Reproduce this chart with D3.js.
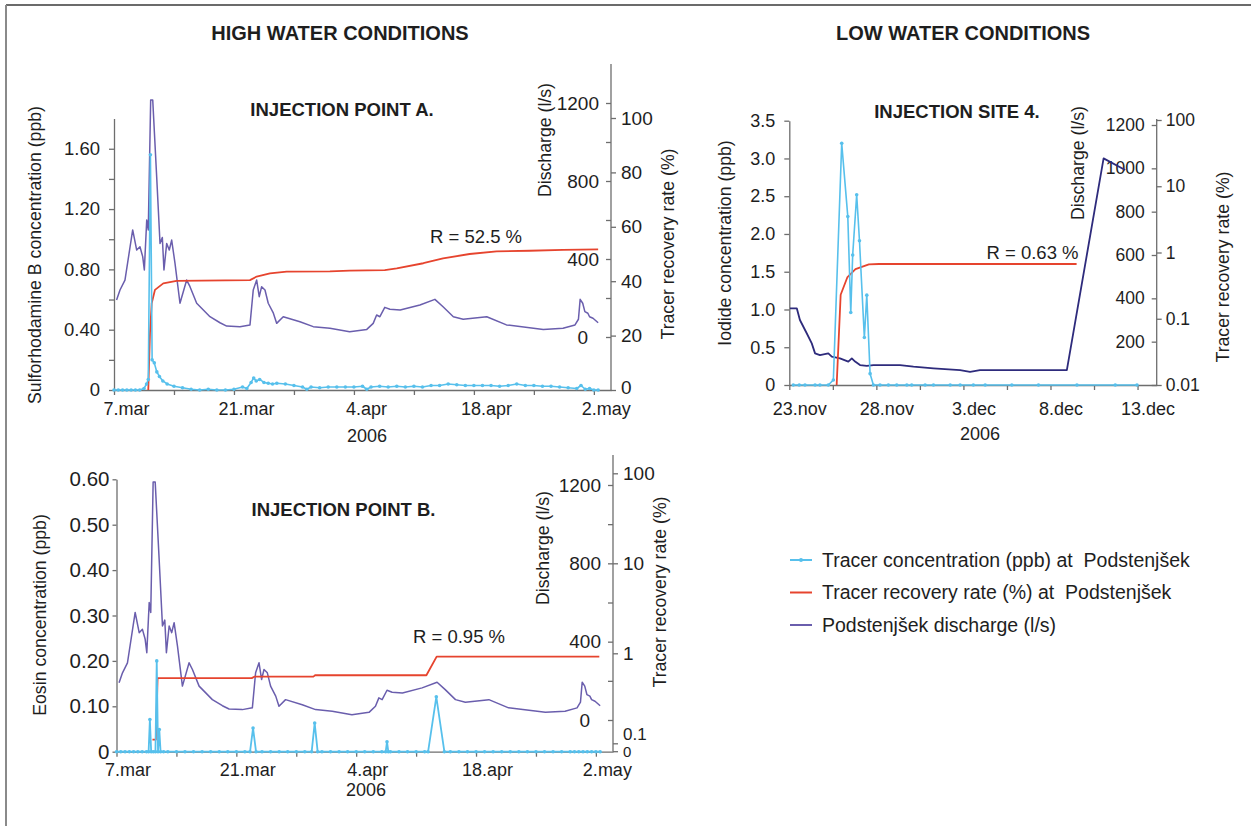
<!DOCTYPE html>
<html>
<head>
<meta charset="utf-8">
<script src="https://cdnjs.cloudflare.com/ajax/libs/d3/7.8.5/d3.min.js"></script>
<style>
body { margin: 0; background: #fff; }
svg { font-family: "Liberation Sans", Arial, sans-serif; }
</style>
</head>
<body>
<div class="chart"></div>
<script>
// ---- data (days counted from first date on the axis) ----

// Podstenjsek discharge, high water (days after 7.mar 2006, l/s) - same record in panel A and B
var dischargeDays = [0.3,0.7,1.28,2.18,2.65,3.03,3.35,3.54,3.82,4.0,4.28,4.52,4.98,5.37,5.64,5.83,6.15,6.45,6.73,7.12,7.7,8.48,8.87,9.65,11.2,12.37,13.15,14.7,15.87,16.25,16.65,16.95,17.23,17.62,18.0,18.6,18.98,19.75,21.7,23.25,25.2,27.5,29.5,30.25,30.65,31.03,31.6,32.2,33.4,35.7,37.45,38.4,39.6,40.75,43.5,45.8,50.1,52.4,53.8,54.2,54.4,54.7,54.95,55.3,55.5,55.9,56.5];
var dischargeVals = [190,241,292,549,446,463,412,344,600,549,1215,1215,822,480,510,344,480,446,497,378,173,292,258,173,104,73,56,53,62,241,292,207,258,241,173,122,70,104,78,53,45,27,39,70,113,104,152,142,138,164,193,155,104,91,104,62,39,45,62,91,193,173,130,122,104,96,73];

// injection point A: sulforhodamine B (ppb) and recovery (%)
var concADays = [0,0.5,1,1.5,2,2.5,3,3.5,3.8,4.0,4.25,4.45,4.7,5.0,5.3,5.7,6.2,7,8,9,10,11,12,13,14,15,15.5,16,16.3,16.6,17,17.5,18,18.5,19,20,21,22,22.5,23,24,25,26,27,28,29,29.5,30,31,32,33,34,35,36,37,38,39,40,41,42,43,44,45,46,47,48,49,50,51,52,53,54,54.5,55,55.5,56,56.5];
var concAVals = [0,0,0,0,0,0,0,0.01,0.04,0.07,1.56,0.2,0.18,0.12,0.09,0.06,0.04,0.025,0.015,0.005,0,0.005,0,0,0.005,0.02,0.01,0.05,0.08,0.06,0.07,0.05,0.045,0.04,0.045,0.04,0.03,0.02,0.005,0.02,0.015,0.02,0.02,0.02,0.02,0.025,0.005,0.02,0.025,0.02,0.025,0.02,0.025,0.02,0.03,0.03,0.04,0.035,0.03,0.03,0.03,0.03,0.025,0.03,0.04,0.03,0.03,0.025,0.025,0.02,0.015,0.01,0.03,0.005,0.01,0,0];
var recADays = [4.0,4.2,4.4,4.78,5.75,7.3,15.87,16.65,18.2,20.15,25.2,27.5,31.6,33,36.1,38.4,41.5,44.65,48.5,52.4,56.5];
var recAVals = [0,21,31.9,36.8,39.2,40.1,40.4,41.7,42.9,43.5,43.6,43.9,44.1,44.7,46.6,48.4,50,51,51.2,51.5,51.7];

// injection point B: eosin (ppb) and recovery (%)
var concBDays = [0,0.5,1,1.5,2,2.5,3,3.5,3.75,3.9,4.05,4.3,4.55,4.7,4.85,5.0,5.15,5.5,6,7,8,9,10,11,12,13,14,15,15.6,15.95,16.3,17,18,19,20,21,22,22.8,23.15,23.5,24,25,26,27,28,29,30,31,31.45,31.6,31.75,32,33,34,35,36,36.4,37.36,38.3,39,40,41,42,43,44,45,46,47,48,49,50,51,52,53,53.5,54,54.5,55,55.5,56,56.5];
var concBVals = [0,0,0,0,0, 0,0,0,0,0.071, 0,0,0,0.2,0, 0.049,0,0,0,0, 0,0,0,0,0, 0,0,0,0,0.052, 0,0,0,0,0, 0,0,0,0.063,0, 0,0,0,0,0, 0,0,0,0,0.022, 0,0,0,0,0, 0,0,0.121,0,0, 0,0,0,0,0, 0,0,0,0,0, 0,0,0,0,0, 0,0,0,0,0, 0];
var recBDays = [4.2,4.6,4.8,15.8,16.1,23.0,23.2,36.2,37.4,56.4];
var recBVals = [0.11,0.11,0.53,0.53,0.55,0.55,0.57,0.57,0.92,0.92];

// injection site 4, low water (days after 23.nov 2006)
var dischargeCDays = [0.04,0.43,0.61,1.0,1.29,1.48,1.76,2.24,2.44,2.91,3.39,3.59,3.78,4.06,4.45,4.83,6.36,7.13,8.28,9.81,10.38,10.95,15.94,18.05,19.29];
var dischargeCVals = [354,354,300,239,192,146,138,146,131,123,108,123,108,92,88,92,92,85,77,69,61,69,69,1046,992];
var concCDays = [0.23,0.57,0.9,1.48,1.76,2.24,2.53,3.01,3.36,3.53,3.64,3.87,4.03,4.31,4.45,4.64,4.83,5.21,5.69,6.17,6.75,7.03,7.8,8.28,9.24,9.81,10.57,11.25,12.78,14.31,16.52,18.72,19.97];
var concCVals = [0,0,0,0,0,0,0.066,3.2,2.23,0.96,1.72,2.52,1.91,0.63,1.19,0.15,0,0,0,0,0,0,0,0,0,0,0,0,0,0,0,0,0];
var recCDays = [2.72,2.95,3.33,3.8,4.57,5.15,16.5];
var recCVals = [0.01,0.23,0.42,0.56,0.66,0.67,0.67];

// axis ticks and labels
var weekTicks = [0,7,14,21,28,35,42,49,56];
var highLabelDays = [0,14,28,42,56];
var highLabels = ["7.mar","21.mar","4.apr","18.apr","2.may"];
var lowTicks = [0,2.5,5,7.5,10,12.5,15,17.5,20];
var lowLabelDays = [0,5,10,15,20];
var lowLabels = ["23.nov","28.nov","3.dec","8.dec","13.dec"];

var concATicks = [0,0.2,0.4,0.6,0.8,1.0,1.2,1.4,1.6];
var concALabels = ["0","","0.40","","0.80","","1.20","","1.60"];
var concBTicks = [0,0.1,0.2,0.3,0.4,0.5,0.6];
var concBLabels = ["0","0.10","0.20","0.30","0.40","0.50","0.60"];
var concCTicks = [0,0.5,1,1.5,2,2.5,3,3.5];
var concCLabels = ["0","0.5","1.0","1.5","2.0","2.5","3.0","3.5"];
var qTicks = [0,200,400,600,800,1000,1200];
var qLabelsHigh = ["0","","400","","800","","1200"];
var qLabelsLow = ["","200","400","600","800","1000","1200"];
var recATicks = [0,20,40,60,80,100];
var recLogTicksB = [0.1,1,10,100];
var recLogTicksC = [0.01,0.1,1,10,100];

var legendLabels = ["Tracer concentration (ppb) at \u00a0Podstenjšek", "Tracer recovery rate (%) at \u00a0Podstenjšek", "Podstenjšek discharge (l/s)"];

// ---- drawing ----
var colConc = "#57c0ec", colRec = "#e6442e", colQ = "#6a5ead", colQLow = "#2e2b7c";
var axisCol = "#6e6e6e", txtCol = "#1e1e1e";

var svg = d3.select(".chart").append("svg")
    .attr("width", 1251)
    .attr("height", 826);

// frame of the figure
svg.append("line").attr("x1", 6).attr("y1", 5).attr("x2", 1251).attr("y2", 5)
    .attr("stroke", "#3a3a3a").attr("stroke-width", 1.5);
svg.append("line").attr("x1", 6).attr("y1", 5).attr("x2", 6).attr("y2", 826)
    .attr("stroke", "#8a8a8a").attr("stroke-width", 2);

function styleAxis(a, fs) {
    a.attr("font-family", null).attr("font-size", fs);
    a.select(".domain").attr("stroke", axisCol).attr("stroke-width", 1.3);
    a.selectAll(".tick line").attr("stroke", axisCol).attr("stroke-width", 1.3);
    a.selectAll(".tick text").attr("fill", txtCol);
}

function text(t, x, y, fs, opts) {
    opts = opts || {};
    var el = svg.append("text")
        .attr("x", x).attr("y", y)
        .attr("dy", "0.35em")
        .attr("text-anchor", opts.anchor || "middle")
        .attr("font-size", fs)
        .attr("fill", txtCol)
        .text(t);
    if (opts.bold) el.attr("font-weight", "bold");
    if (opts.rot) el.attr("transform", `rotate(-90, ${x}, ${y})`);
    return el;
}

function bottomAxis(x, y0, ticks, labelDays, labels, shift, pad, fs) {
    svg.append("g").attr("transform", `translate(0,${y0})`)
        .call(d3.axisBottom(x).tickValues(ticks).tickSize(5).tickSizeOuter(0).tickFormat(""))
        .call(a => styleAxis(a, fs));
    svg.append("g").attr("transform", `translate(0,${y0})`)
        .call(d3.axisBottom(x).tickValues(labelDays).tickSize(0).tickPadding(pad).tickFormat((d, i) => labels[i]))
        .call(a => {
            a.select(".domain").remove();
            styleAxis(a, fs);
            a.selectAll(".tick text").attr("dx", shift);
        });
}

function drawSeries(x, y, days, vals, color, width, dots) {
    var data = d3.zip(days, vals);
    var line = d3.line().x(d => x(d[0])).y(d => y(d[1]));
    svg.append("path")
        .datum(data)
        .attr("d", line)
        .attr("fill", "none")
        .attr("stroke", color)
        .attr("stroke-width", width)
        .attr("stroke-linejoin", "round");
    if (dots) {
        svg.append("g").selectAll("circle")
            .data(data)
            .enter()
            .append("circle")
            .attr("cx", d => x(d[0]))
            .attr("cy", d => y(d[1]))
            .attr("r", 1.8)
            .attr("fill", color);
    }
}

// the "0" of the discharge axes sits a bit left of the other labels
function shiftZero(a) {
    a.selectAll(".tick text").filter(d => d === 0).attr("dx", -11);
}

// ===== panel A =====
var xA = d3.scaleLinear().domain([0, 58]).range([114, 611]);
var yConcA = d3.scaleLinear().domain([0, 1.8]).range([390, 118.6]);
var yQA = d3.scaleLinear().domain([0, 1400]).range([337, 64]);
var yRecA = d3.scaleLinear().domain([0, 120]).range([390, 63.6]);

svg.append("g").attr("transform", "translate(114,0)")
    .call(d3.axisLeft(yConcA).tickValues(concATicks).tickSize(5).tickSizeOuter(0).tickPadding(9)
        .tickFormat((d, i) => concALabels[i]))
    .call(a => styleAxis(a, 18.5));
svg.append("line").attr("x1", 611).attr("x2", 611).attr("y1", 390).attr("y2", 64)
    .attr("stroke", axisCol).attr("stroke-width", 1.3);
svg.append("g").attr("transform", "translate(611,0)")
    .call(d3.axisLeft(yQA).tickValues(qTicks).tickSize(5).tickPadding(7).tickFormat((d, i) => qLabelsHigh[i]))
    .call(a => { styleAxis(a, 19); a.select(".domain").remove(); shiftZero(a); });
svg.append("g").attr("transform", "translate(611,0)")
    .call(d3.axisRight(yRecA).tickValues(recATicks).tickSize(5).tickPadding(5))
    .call(a => {
        styleAxis(a, 19);
        a.select(".domain").remove();
        a.selectAll(".tick text").filter(d => d === 0).attr("dy", "0.2em");
    });
bottomAxis(xA, 390, weekTicks, highLabelDays, highLabels, 12, 12, 18);

drawSeries(xA, yQA, dischargeDays, dischargeVals, colQ, 1.5, false);
drawSeries(xA, yRecA, recADays, recAVals, colRec, 1.8, false);
drawSeries(xA, yConcA, concADays, concAVals, colConc, 1.6, true);

// ===== panel B =====
var xB = d3.scaleLinear().domain([0, 58]).range([116.5, 613]);
var yConcB = d3.scaleLinear().domain([0, 0.6]).range([751.7, 479.3]);
var yQB = d3.scaleLinear().domain([0, 1200]).range([720, 485]);
var yRecB = d3.scaleLog().domain([0.1, 100]).range([743.3, 473.3]);

svg.append("g").attr("transform", "translate(116.5,0)")
    .call(d3.axisLeft(yConcB).tickValues(concBTicks).tickSize(4).tickSizeOuter(0).tickPadding(3)
        .tickFormat((d, i) => concBLabels[i]))
    .call(a => styleAxis(a, 20.5));
svg.append("line").attr("x1", 613).attr("x2", 613).attr("y1", yConcB(0)).attr("y2", 455)
    .attr("stroke", axisCol).attr("stroke-width", 1.3);
svg.append("g").attr("transform", "translate(613,0)")
    .call(d3.axisLeft(yQB).tickValues(qTicks).tickSize(5).tickPadding(7).tickFormat((d, i) => qLabelsHigh[i]))
    .call(a => { styleAxis(a, 19); a.select(".domain").remove(); shiftZero(a); });
svg.append("g").attr("transform", "translate(613,0)")
    .call(d3.axisRight(yRecB).tickValues(recLogTicksB).tickSize(5).tickPadding(5).tickFormat(d3.format("~g")))
    .call(a => {
        styleAxis(a, 19);
        a.select(".domain").remove();
        // 0.1 and the 0 below it are stacked tightly
        a.selectAll(".tick text").filter(d => d === 0.1)
            .attr("font-size", 17).attr("y", -9.3).attr("dy", "0.35em");
    });
// break of the log axis down to zero
svg.append("line").attr("x1", 613).attr("x2", 618).attr("y1", yConcB(0)).attr("y2", yConcB(0))
    .attr("stroke", axisCol).attr("stroke-width", 1.3);
text("0", 623, yConcB(0), 15, { anchor: "start" });
bottomAxis(xB, yConcB(0), weekTicks, highLabelDays, highLabels, 11, 12, 18);

drawSeries(xB, yQB, dischargeDays, dischargeVals, colQ, 1.5, false);
drawSeries(xB, yRecB, recBDays, recBVals, colRec, 1.8, false);
drawSeries(xB, yConcB, concBDays, concBVals, colConc, 1.8, true);

// ===== panel C =====
var xC = d3.scaleLinear().domain([0, 21.1]).range([789.3, 1156.7]);
var yConcC = d3.scaleLinear().domain([0, 3.5]).range([385, 120.7]);
var yQC = d3.scaleLinear().domain([0, 1200]).range([385, 125]);
var yRecC = d3.scaleLog().domain([0.01, 100]).range([385, 120]);

svg.append("g").attr("transform", "translate(789.3,0)")
    .call(d3.axisLeft(yConcC).tickValues(concCTicks).tickSize(5).tickSizeOuter(0).tickPadding(9)
        .tickFormat((d, i) => concCLabels[i]))
    .call(a => styleAxis(a, 18));
svg.append("line").attr("x1", 1156.7).attr("x2", 1156.7).attr("y1", 385).attr("y2", 119)
    .attr("stroke", axisCol).attr("stroke-width", 1.3);
svg.append("g").attr("transform", "translate(1156.7,0)")
    .call(d3.axisLeft(yQC).tickValues(qTicks).tickSize(5).tickPadding(7).tickFormat((d, i) => qLabelsLow[i]))
    .call(a => { styleAxis(a, 17.5); a.select(".domain").remove(); });
svg.append("g").attr("transform", "translate(1156.7,0)")
    .call(d3.axisRight(yRecC).tickValues(recLogTicksC).tickSize(5).tickPadding(4).tickFormat(d3.format("~g")))
    .call(a => { styleAxis(a, 17.5); a.select(".domain").remove(); });
bottomAxis(xC, 385, lowTicks, lowLabelDays, lowLabels, 10, 17, 18);

drawSeries(xC, yQC, dischargeCDays, dischargeCVals, colQLow, 1.8, false);
drawSeries(xC, yRecC, recCDays, recCVals, colRec, 1.8, false);
drawSeries(xC, yConcC, concCDays, concCVals, colConc, 1.6, true);

// ===== texts =====
text("HIGH WATER CONDITIONS", 340, 33, 20, { bold: true });
text("LOW WATER CONDITIONS", 963, 33, 20, { bold: true });
text("INJECTION POINT A.", 342, 110, 18.5, { bold: true });
text("INJECTION POINT B.", 343.5, 510, 18.5, { bold: true });
text("INJECTION SITE 4.", 957, 111.7, 18.5, { bold: true });
text("R = 52.5 %", 476, 237, 18.5);
text("R = 0.95 %", 459, 637, 18.5);
text("R = 0.63 %", 1032.5, 252.7, 18.5);

text("2006", 367, 436, 18);
text("2006", 366, 790, 18);
text("2006", 980, 434, 18);

text("Sulforhodamine B concentration (ppb)", 35, 255, 17.7, { rot: true });
text("Discharge (l/s)", 545, 140, 17.7, { rot: true });
text("Tracer recovery rate (%)", 668, 244, 17.7, { rot: true });
text("Eosin concentration (ppb)", 40, 615, 17.7, { rot: true });
text("Discharge (l/s)", 543, 548, 17.7, { rot: true });
text("Tracer recovery rate (%)", 660, 592, 17.7, { rot: true });
text("Iodide concentration (ppb)", 725, 243, 17.7, { rot: true });
text("Discharge (l/s)", 1078, 163, 17.7, { rot: true });
text("Tracer recovery rate (%)", 1223, 267, 17.7, { rot: true });

// ===== legend =====
var legendColors = [colConc, colRec, colQ];
var legend = svg.append("g").attr("transform", "translate(790,560)");
legendLabels.forEach(function (lab, i) {
    var row = legend.append("g").attr("transform", `translate(0,${i * 32.5})`);
    row.append("line").attr("x1", 0).attr("x2", 22).attr("y1", 0).attr("y2", 0)
        .attr("stroke", legendColors[i]).attr("stroke-width", 2);
    if (i === 0) row.append("circle").attr("cx", 11).attr("cy", 0).attr("r", 2).attr("fill", colConc);
    row.append("text").attr("x", 32).attr("y", 0).attr("dy", "0.35em")
        .attr("font-size", 19.5).attr("fill", txtCol).text(lab);
});
</script>
</body>
</html>
